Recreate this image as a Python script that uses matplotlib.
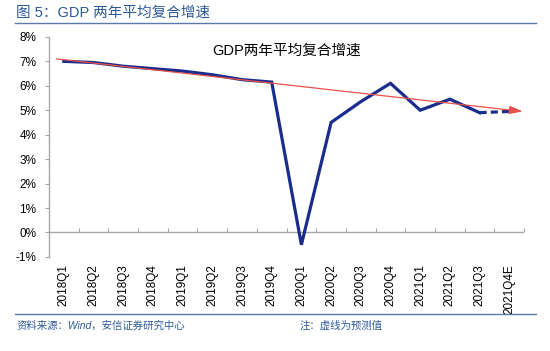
import numpy as np
import matplotlib.pyplot as plt

plt.rcParams['font.family'] = ['Liberation Sans', 'Noto Sans CJK SC', 'DejaVu Sans']

quarters = ['2018Q1', '2018Q2', '2018Q3', '2018Q4', '2019Q1', '2019Q2', '2019Q3', '2019Q4',
            '2020Q1', '2020Q2', '2020Q3', '2020Q4', '2021Q1', '2021Q2', '2021Q3', '2021Q4E']
growth = [7.0, 6.95, 6.8, 6.7, 6.6, 6.45, 6.25, 6.15,
          -0.5, 4.5, 5.35, 6.1, 5.0, 5.45, 4.9, 4.95]
trend_start = 7.1
trend_end = 4.95
n_actual = 15  # last point is forecast

blue = '#1A2C8C'
text_blue = '#2E5A9A'
gray = '#A6A6A6'

fig = plt.figure(figsize=(5.5, 3.51), dpi=100)
ax = fig.add_axes([0.089, 0.268, 0.864, 0.627])

x = np.arange(len(quarters))
ax.plot(x[:n_actual], growth[:n_actual], color=blue, lw=2.3, solid_joinstyle='miter')
ax.plot(x[n_actual - 1:], growth[n_actual - 1:], color=blue, lw=2.3, ls=(0, (2.2, 1.3)))

# trend arrow
ax.annotate('', xy=(x[-1] + 0.45, trend_end), xytext=(x[0] - 0.25, trend_start),
            arrowprops=dict(arrowstyle='-|>,head_length=0.8,head_width=0.25',
                            color='#E8524A', lw=0.9, shrinkA=0, shrinkB=0))

ax.set_xlim(-0.5, len(quarters) - 0.5)
ax.set_ylim(-1, 8)
ax.set_yticks(range(-1, 9))
ax.set_yticklabels([f'{v}%' for v in range(-1, 9)], fontsize=8.5)
ax.set_xticks(x)
ax.set_xticklabels(quarters, rotation=90, fontsize=8.5)
ax.tick_params(axis='x', length=0, pad=5)
ax.tick_params(axis='y', length=3, color=gray, width=0.8, pad=6)

for s in ['top', 'right', 'bottom']:
    ax.spines[s].set_visible(False)
ax.spines['left'].set_color(gray)
ax.spines['left'].set_linewidth(1.0)

# zero line with category boundary ticks
ax.axhline(0, color=gray, lw=1.0, zorder=0)
sec = ax.secondary_xaxis(1 / 9)
sec.set_xticks(np.arange(0.5, len(quarters), 1))
sec.set_xticklabels([])
sec.tick_params(direction='in', length=3, color=gray, width=0.8)
sec.spines['bottom'].set_visible(False)
sec.spines['top'].set_visible(False)

ax.text(0.5, 0.97, 'GDP两年平均复合增速', transform=ax.transAxes, ha='center', va='top',
        fontsize=10.5, family=['Liberation Sans', 'Noto Sans CJK SC'])

# header and footer
fig.text(0.03, 0.965, '图 5：GDP 两年平均复合增速', fontsize=10.5, color=text_blue,
         ha='left', va='center', family=['Liberation Sans', 'Noto Sans CJK SC'])
fig.add_artist(plt.Line2D([0.027, 0.975], [0.935, 0.935], color='#5A7BAA', lw=1.0))
fig.add_artist(plt.Line2D([0.027, 0.975], [0.105, 0.105], color='#5A7BAA', lw=1.0))
fig.text(0.03, 0.072, '资料来源：Wind，安信证券研究中心', fontsize=7.5, color=text_blue,
         style='italic', ha='left', va='center', family=['Liberation Sans', 'Noto Sans CJK SC'])
fig.text(0.545, 0.072, '注：虚线为预测值', fontsize=7.5, color=text_blue,
         style='italic', ha='left', va='center', family=['Liberation Sans', 'Noto Sans CJK SC'])

fig.savefig('out.png', dpi=100, facecolor='white')
